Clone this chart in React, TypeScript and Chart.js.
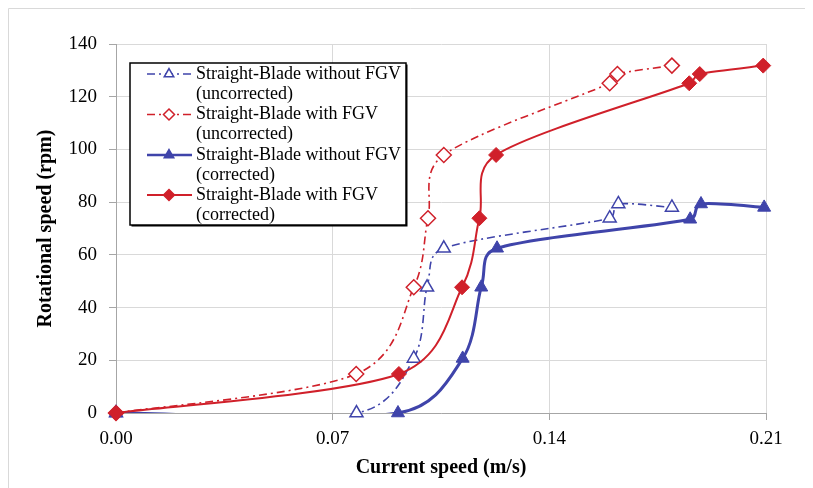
import React, { useEffect, useRef } from 'react';
import { Chart, registerables } from 'chart.js';

Chart.register(...registerables);

// ---------- data ----------
const xTicks = [0, 0.07, 0.14, 0.21];
const yTicks = [0, 20, 40, 60, 80, 100, 120, 140];

const withoutUncorrX = [0, 0.0777, 0.0962, 0.1005, 0.1059, 0.1595, 0.1623, 0.1796];
const withoutUncorrY = [0, 0, 20.7, 47.7, 62.5, 73.9, 79.3, 78.0];

const withUncorrX = [0, 0.0776, 0.0962, 0.1008, 0.1059, 0.1595, 0.162, 0.1796];
const withUncorrY = [0, 14.8, 47.7, 73.9, 97.9, 125.1, 128.6, 131.8];

const withoutCorrX = [0, 0.0911, 0.112, 0.118, 0.1231, 0.1855, 0.189, 0.2094];
const withoutCorrY = [0, 0, 20.7, 47.7, 62.5, 73.5, 79.3, 78.0];

const withCorrX = [0, 0.0914, 0.1118, 0.1174, 0.1228, 0.1852, 0.1886, 0.2091];
const withCorrY = [0, 14.8, 47.7, 73.9, 97.9, 125.1, 128.6, 131.8];

const seriesLabels = [
  ['Straight-Blade without FGV', '(uncorrected)'],
  ['Straight-Blade with FGV', '(uncorrected)'],
  ['Straight-Blade without FGV', '(corrected)'],
  ['Straight-Blade with FGV', '(corrected)'],
];

const xTitle = 'Current speed (m/s)';
const yTitle = 'Rotational speed (rpm)';

// ---------- styles ----------
const BLUE = '#3F44AA';
const RED = '#D0202A';
const FONT = "'Liberation Serif', 'Times New Roman', serif";
const DASH = [8, 4, 2, 4];
const CAP = 0.45;

const pts = (xs: number[], ys: number[]) => xs.map((x, i) => ({ x, y: ys[i] }));

function markerPath(ctx: CanvasRenderingContext2D, style: string, x: number, y: number, r: number) {
  ctx.beginPath();
  if (style === 'triangle') {
    const w = r * Math.sin(Math.PI / 3);
    ctx.moveTo(x, y - r);
    ctx.lineTo(x + w, y + r / 2);
    ctx.lineTo(x - w, y + r / 2);
  } else {
    ctx.moveTo(x, y - r);
    ctx.lineTo(x + r, y);
    ctx.lineTo(x, y + r);
    ctx.lineTo(x - r, y);
  }
  ctx.closePath();
}

// Spreadsheet-style smoothing: Catmull-Rom tangents (next - prev) / 6, capped by segment length;
// lines are clipped to the plot area while markers are not.
const smoothLines = {
  id: 'smoothLines',
  beforeDatasetsDraw(chart: any) {
    chart.data.datasets.forEach((_ds: any, i: number) => {
      const meta = chart.getDatasetMeta(i);
      const line = meta.dataset;
      if (!line) return;
      if (typeof line.updateControlPoints === 'function') {
        line.updateControlPoints(chart.chartArea, meta.indexAxis || 'x');
      }
      const p = meta.data;
      const n = p.length;
      const dist = (a: any, b: any) => Math.hypot(a.x - b.x, a.y - b.y);
      for (let k = 0; k < n; k++) {
        const prev = p[Math.max(0, k - 1)];
        const next = p[Math.min(n - 1, k + 1)];
        const tx = (next.x - prev.x) / 6;
        const ty = (next.y - prev.y) / 6;
        const tl = Math.hypot(tx, ty) || 1;
        const d01 = k > 0 ? dist(p[k - 1], p[k]) : 0;
        const d12 = k < n - 1 ? dist(p[k], p[k + 1]) : 0;
        const s1 = Math.min(1, (CAP * d01) / tl);
        const s2 = Math.min(1, (CAP * d12) / tl);
        p[k].cp1x = p[k].x - tx * s1;
        p[k].cp1y = p[k].y - ty * s1;
        p[k].cp2x = p[k].x + tx * s2;
        p[k].cp2y = p[k].y + ty * s2;
      }
      line._path = undefined;
      if (!line.__clipWrapped) {
        const orig = line.draw.bind(line);
        line.draw = (ctx: CanvasRenderingContext2D, area: any, s: any, c: any) => {
          const a = chart.chartArea;
          ctx.save();
          ctx.beginPath();
          ctx.rect(a.left - 2, a.top - 2, a.right - a.left + 4, a.bottom - a.top + 2);
          ctx.clip();
          orig(ctx, area, s, c);
          ctx.restore();
        };
        line.__clipWrapped = true;
      }
    });
  },
};

const frameAndLegend = {
  id: 'frameAndLegend',
  beforeDraw(chart: any) {
    const ctx = chart.ctx as CanvasRenderingContext2D;
    ctx.save();
    ctx.strokeStyle = '#d9d9d9';
    ctx.lineWidth = 1;
    ctx.beginPath();
    ctx.moveTo(0.5, chart.height);
    ctx.lineTo(0.5, 0.5);
    ctx.lineTo(chart.width, 0.5);
    ctx.stroke();
    ctx.restore();
  },
  afterDraw(chart: any) {
    const ctx = chart.ctx as CanvasRenderingContext2D;
    ctx.save();
    const bx = 122, by = 55, bw = 276, bh = 162;
    ctx.fillStyle = '#000';
    ctx.fillRect(bx + 1.5, by + 1.5, bw, bh);
    ctx.fillStyle = '#fff';
    ctx.fillRect(bx, by, bw, bh);
    ctx.strokeStyle = '#000';
    ctx.lineWidth = 1.5;
    ctx.strokeRect(bx, by, bw, bh);

    const rows = [66, 106.5, 147, 187];
    chart.data.datasets.forEach((ds: any, i: number) => {
      const y = rows[i];
      ctx.save();
      ctx.strokeStyle = ds.borderColor;
      ctx.lineWidth = Math.min(ds.borderWidth, 2.5);
      ctx.setLineDash(ds.borderDash || []);
      ctx.beginPath();
      ctx.moveTo(139, y);
      ctx.lineTo(184, y);
      ctx.stroke();
      ctx.setLineDash([]);
      markerPath(ctx, ds.pointStyle, 161, y, 5.5);
      ctx.fillStyle = ds.pointBackgroundColor;
      ctx.fill();
      ctx.lineWidth = 1.5;
      ctx.strokeStyle = ds.pointBorderColor;
      ctx.stroke();
      ctx.restore();

      ctx.fillStyle = '#000';
      ctx.font = `18px ${FONT}`;
      ctx.textBaseline = 'middle';
      ctx.textAlign = 'left';
      seriesLabels[i].forEach((line, k) => {
        ctx.fillText(line, 188, y + k * 20);
      });
    });
    ctx.restore();
  },
};

export default function App() {
  const ref = useRef<HTMLCanvasElement | null>(null);

  useEffect(() => {
    if (!ref.current) return;
    const mk = (
      idx: number,
      xs: number[],
      ys: number[],
      color: string,
      style: string,
      open: boolean,
      width: number,
      order: number,
    ) => ({
      label: seriesLabels[idx].join(' '),
      data: pts(xs, ys),
      borderColor: color,
      backgroundColor: open ? '#fff' : color,
      borderWidth: width,
      borderDash: open ? DASH : [],
      pointStyle: style,
      pointRadius: 7.5,
      pointHoverRadius: 7.5,
      pointBorderWidth: open ? 1.5 : 1,
      pointBackgroundColor: open ? '#fff' : color,
      pointBorderColor: color,
      tension: 0.35,
      capBezierPoints: false,
      clip: false as any,
      order,
    });

    const chart = new Chart(ref.current, {
      type: 'line',
      data: {
        datasets: [
          mk(0, withoutUncorrX, withoutUncorrY, BLUE, 'triangle', true, 1.6, 3),
          mk(1, withUncorrX, withUncorrY, RED, 'rectRot', true, 1.6, 2),
          mk(2, withoutCorrX, withoutCorrY, BLUE, 'triangle', false, 3, 1),
          mk(3, withCorrX, withCorrY, RED, 'rectRot', false, 2, 0),
        ] as any,
      },
      options: {
        responsive: false,
        animation: false,
        layout: { padding: { left: 0, top: 36, right: 47, bottom: 0 } },
        plugins: {
          legend: { display: false },
          tooltip: { enabled: false },
          title: { display: false },
        },
        scales: {
          x: {
            type: 'linear',
            min: 0,
            max: 0.21,
            afterBuildTicks: (s: any) => {
              s.ticks = xTicks.map((v) => ({ value: v }));
            },
            afterFit: (s: any) => {
              s.height = 75;
            },
            grid: { color: '#d9d9d9', tickColor: '#a6a6a6', tickLength: 7, lineWidth: 1 },
            border: { color: '#a6a6a6', width: 1 },
            ticks: {
              color: '#000',
              font: { family: FONT, size: 19 },
              padding: 8,
              maxRotation: 0,
              callback: (v: any) => Number(v).toFixed(2),
            },
            title: {
              display: true,
              text: xTitle,
              color: '#000',
              font: { family: FONT, size: 20, weight: 'bold' },
              padding: { top: 0, bottom: 8 },
            },
          },
          y: {
            type: 'linear',
            min: 0,
            max: 140,
            afterBuildTicks: (s: any) => {
              s.ticks = yTicks.map((v) => ({ value: v }));
            },
            afterFit: (s: any) => {
              s.width = 108;
            },
            grid: { color: '#d9d9d9', tickColor: '#a6a6a6', tickLength: 7, lineWidth: 1 },
            border: { color: '#a6a6a6', width: 1 },
            ticks: {
              color: '#000',
              font: { family: FONT, size: 19 },
              padding: 12,
              callback: (v: any) => String(v),
            },
            title: {
              display: true,
              text: yTitle,
              color: '#000',
              font: { family: FONT, size: 20, weight: 'bold' },
              padding: { top: 26, bottom: 0 },
            },
          },
        },
      },
      plugins: [smoothLines, frameAndLegend],
    });
    return () => chart.destroy();
  }, []);

  return (
    <div style={{ width: 805, height: 480 }}>
      <canvas ref={ref} width={805} height={480} style={{ display: 'block', width: 805, height: 480 }} />
    </div>
  );
}
